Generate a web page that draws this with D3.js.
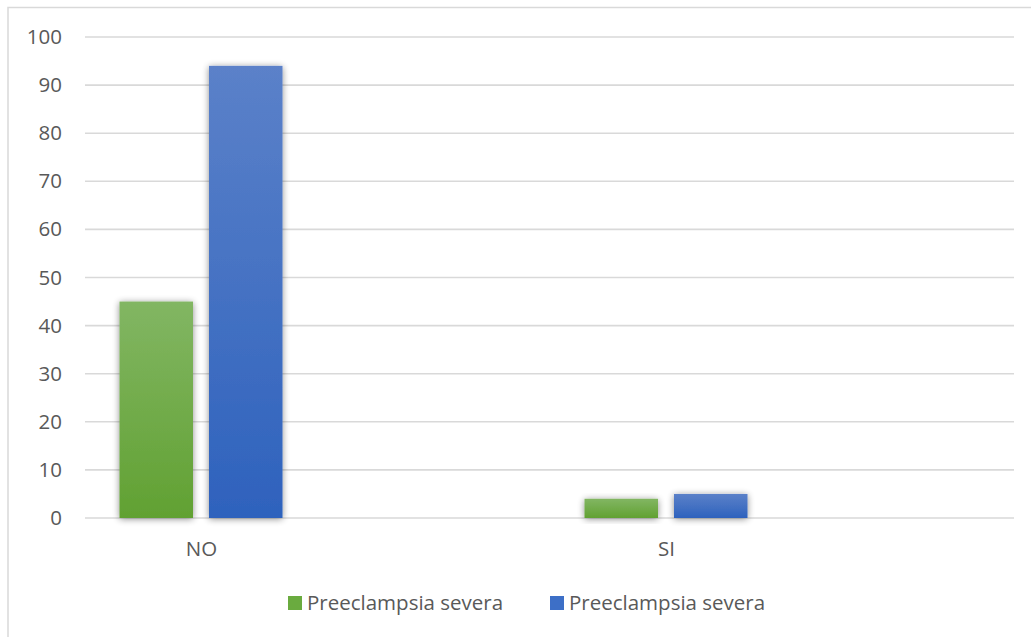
<!DOCTYPE html>
<html>
<head>
<meta charset="utf-8">
<script src="https://cdn.jsdelivr.net/npm/d3@7"></script>
<style>
  html, body { margin: 0; padding: 0; background: #fff; }
  svg { display: block; font-family: "Open Sans", "Noto Sans", sans-serif; }
</style>
</head>
<body>
<svg id="chart" width="1031" height="637"></svg>
<script>
// Chart data
const categories = ["NO", "SI"];
const seriesNames = ["Preeclampsia severa", "Preeclampsia severa"];
const seriesGreen = [45, 4];
const seriesBlue = [94, 5];
const yTicks = [0, 10, 20, 30, 40, 50, 60, 70, 80, 90, 100];

const W = 1031, H = 637;
const plot = { left: 85, right: 1014, top: 37, bottom: 518 };
const FONT_SIZE = "20.5px";

const svg = d3.select("#chart");

// Defs: gradients and soft shadow for bars
const defs = svg.append("defs");
function grad(id, top, bottom) {
  const g = defs.append("linearGradient").attr("id", id)
    .attr("x1", 0).attr("y1", 0).attr("x2", 0).attr("y2", 1);
  g.append("stop").attr("offset", "0%").attr("stop-color", top);
  g.append("stop").attr("offset", "100%").attr("stop-color", bottom);
}
grad("gGreen", "#82b663", "#61a132");
grad("gBlue", "#5b81c9", "#2e62bd");

const shadow = defs.append("filter").attr("id", "shadow")
  .attr("x", "-30%").attr("y", "-30%").attr("width", "160%").attr("height", "160%");
shadow.append("feGaussianBlur").attr("in", "SourceAlpha").attr("stdDeviation", 3.5).attr("result", "blur");
shadow.append("feOffset").attr("in", "blur").attr("dx", 0).attr("dy", 1).attr("result", "off");
shadow.append("feComponentTransfer").attr("in", "off").attr("result", "shade")
  .append("feFuncA").attr("type", "linear").attr("slope", 0.45);
const merge = shadow.append("feMerge");
merge.append("feMergeNode").attr("in", "shade");
merge.append("feMergeNode").attr("in", "SourceGraphic");

// Outer frame
svg.append("rect")
  .attr("x", 8).attr("y", 7.5)
  .attr("width", W + 10).attr("height", H + 10)
  .attr("fill", "none").attr("stroke", "#d9d9d9").attr("stroke-width", 1.5);

// Scales
const y = d3.scaleLinear().domain([0, 100]).range([plot.bottom, plot.top]);
const x = d3.scalePoint().domain(categories)
  .range([plot.left + 116, plot.right - 348]);

const barW = 73.5;
const barGap = 16;

// Gridlines
svg.append("g")
  .selectAll("line")
  .data(yTicks)
  .join("line")
  .attr("x1", plot.left).attr("x2", plot.right)
  .attr("y1", d => y(d)).attr("y2", d => y(d))
  .attr("stroke", "#d9d9d9").attr("stroke-width", 1.6);

// Y axis labels
const yAxis = d3.axisLeft(y).tickValues(yTicks).tickSize(0).tickPadding(0);
svg.append("g")
  .attr("transform", `translate(${plot.left - 23},0)`)
  .call(yAxis)
  .call(g => g.select(".domain").remove())
  .call(g => g.selectAll("text")
    .attr("fill", "#595959")
    .attr("font-size", FONT_SIZE)
    .attr("font-family", "'Open Sans', 'Noto Sans', sans-serif"));

// Bars
const bars = [];
categories.forEach((c, i) => {
  bars.push({ cat: c, value: seriesGreen[i], fill: "url(#gGreen)", offset: -barGap / 2 - barW });
  bars.push({ cat: c, value: seriesBlue[i], fill: "url(#gBlue)", offset: barGap / 2 });
});
svg.append("g")
  .selectAll("rect")
  .data(bars)
  .join("rect")
  .attr("x", d => x(d.cat) + d.offset)
  .attr("y", d => y(d.value))
  .attr("width", barW)
  .attr("height", d => y(0) - y(d.value))
  .attr("fill", d => d.fill)
  .attr("filter", "url(#shadow)");

// X axis labels
const xAxis = d3.axisBottom(x).tickSize(0).tickPadding(0);
svg.append("g")
  .attr("transform", `translate(0,${plot.bottom + 23})`)
  .call(xAxis)
  .call(g => g.select(".domain").remove())
  .call(g => g.selectAll("text")
    .attr("fill", "#595959")
    .attr("font-size", FONT_SIZE)
    .attr("font-family", "'Open Sans', 'Noto Sans', sans-serif"));

// Legend
const legendItems = [
  { name: seriesNames[0], color: "#6aab3f", x: 288 },
  { name: seriesNames[1], color: "#3d6fc7", x: 550 }
];
const lg = svg.append("g").attr("transform", "translate(0,603)");
const li = lg.selectAll("g").data(legendItems).join("g")
  .attr("transform", d => `translate(${d.x},0)`);
li.append("rect").attr("x", 0).attr("y", -7).attr("width", 14).attr("height", 14)
  .attr("fill", d => d.color);
li.append("text").attr("x", 19).attr("y", 0).attr("dy", "0.35em")
  .attr("fill", "#595959").attr("font-size", FONT_SIZE)
  .text(d => d.name);
</script>
</body>
</html>
